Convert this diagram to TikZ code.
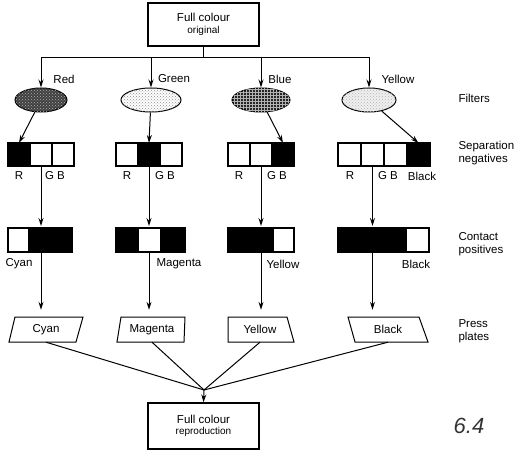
\documentclass[tikz,border=0pt]{standalone}
\usepackage{fontspec}
\setmainfont{Liberation Sans}
\usetikzlibrary{positioning,arrows.meta,patterns,shapes.geometric}

\begin{document}
\begin{tikzpicture}[x=1pt,y=-1pt,
    font=\fontsize{11.5}{13.5}\selectfont,
    >={Stealth[length=8pt,width=5pt]},
    box/.style={draw,line width=1.2pt,minimum width=111pt,align=center,inner sep=0pt},
    filter/.style={draw,ellipse,line width=1pt,minimum height=24pt,inner sep=0pt},
    cell/.style={draw,line width=1.2pt,minimum width=22pt,minimum height=23pt,inner sep=0pt,outer sep=0pt},
    poscell/.style={cell,minimum height=24pt},
    plate/.style={minimum height=25pt,inner sep=0pt},
    side/.style={anchor=west,align=left}]
  \useasboundingbox (0,0) rectangle (515,452);

  % original and reproduction
  \node[box,minimum height=43pt] (orig) at (203.5,24.5)
    {Full colour\\[-2pt]{\fontsize{10}{11}\selectfont original}};
  \node[box,minimum height=46pt] (rep) at (203.5,426)
    {Full colour\\[-2pt]{\fontsize{10}{11}\selectfont reproduction}};

  % filters
  \draw
    (64,79) node (lr){Red}
    (174,79) node (lg){Green}
    (280,79) node (lb){Blue}
    (398,79) node (ly){Yellow};
  \node[filter,minimum width=52pt,fill=black!75,postaction={pattern=crosshatch dots,pattern color=white!70!black}] (fr) at (41,100) {};
  \node[filter,minimum width=60pt,fill=white,postaction={pattern=crosshatch dots,pattern color=black!45}] (fg) at (151,100) {};
  \node[filter,minimum width=58pt,fill=black!85,postaction={pattern=grid,pattern color=white!70!black}] (fb) at (261,100) {};
  \node[filter,minimum width=54pt,fill=black!6,postaction={pattern=crosshatch dots,pattern color=black!30}] (fy) at (369,100) {};

  % separation negatives
  \node[cell,fill=black] (r1) at (19,154.5) {};
  \node[cell,right=0pt of r1] (r2) {};
  \node[cell,right=0pt of r2] (r3) {};
  \node[cell] (g1) at (127,154.5) {};
  \node[cell,fill=black,right=0pt of g1] (g2) {};
  \node[cell,right=0pt of g2] (g3) {};
  \node[cell] (b1) at (239,154.5) {};
  \node[cell,right=0pt of b1] (b2) {};
  \node[cell,fill=black,right=0pt of b2] (b3) {};
  \node[cell,minimum width=23pt] (y1) at (349.5,154.5) {};
  \node[cell,minimum width=23pt,right=0pt of y1] (y2) {};
  \node[cell,minimum width=23pt,right=0pt of y2] (y3) {};
  \node[cell,minimum width=23pt,fill=black,right=0pt of y3] (y4) {};
  \draw
    (19,176) node (rR){R}
    (55,176) node (rGB){G B}
    (127,176) node (gR){R}
    (165,176) node (gGB){G B}
    (239,176) node (bR){R}
    (277,176) node (bGB){G B}
    (350,176) node (yR){R}
    (388,176) node (yGB){G B}
    (422,176) node (yK){Black};

  % contact positives
  \node[poscell,minimum width=21pt] (c1) at (18.5,240) {};
  \node[poscell,minimum width=43pt,fill=black,right=0pt of c1] (c2) {};
  \node[poscell,fill=black] (m1) at (127,240) {};
  \node[poscell,minimum width=23pt,right=0pt of m1] (m2) {};
  \node[poscell,minimum width=24pt,fill=black,right=0pt of m2] (m3) {};
  \node[poscell,minimum width=45pt,fill=black] (p1) at (250.5,240) {};
  \node[poscell,minimum width=21pt,right=0pt of p1] (p2) {};
  \node[poscell,minimum width=68pt,fill=black] (k1) at (372,240) {};
  \node[poscell,minimum width=23pt,right=0pt of k1] (k2) {};
  \draw
    (19,264) node (lc){Cyan}
    (179,264) node (lm){Magenta}
    (283,264) node (lp){Yellow}
    (416,264) node (lk){Black};

  % press plates
  \draw[line width=1pt] (9,342) -- (15,317) -- (83,317) -- (76,342) -- cycle;
  \draw[line width=1pt] (117,342) -- (121,317) -- (185,317) -- (184,342) -- cycle;
  \draw[line width=1pt] (228,342) -- (228,317) -- (287,317) -- (294,342) -- cycle;
  \draw[line width=1pt] (355,342) -- (348,317) -- (419,317) -- (428,342) -- cycle;
  \node[plate] (pc) at (46,329.5) {Cyan};
  \node[plate] (pm) at (152,329.5) {Magenta};
  \node[plate] (py) at (260,329.5) {Yellow};
  \node[plate] (pk) at (388,329.5) {Black};
  \coordinate (mrg) at (204,390);

  % row labels
  \node[side] (tf) at (455,98) {Filters};
  \node[side] (ts) at (455,153) {Separation\\negatives};
  \node[side] (tc) at (455,244) {Contact\\positives};
  \node[side] (tp) at (455,331) {Press\\plates};
  \node[font=\fontsize{22}{22}\selectfont\itshape,text=black!80] (fig) at (469,426) {6.4};

  \begin{scope}[line width=1pt]
    \draw (orig.south) -- ++(0,11) coordinate (bus);
    \draw[->] (bus) -| (fr.north);
    \draw[->] (bus) -| (fg.north);
    \draw[->] (bus) -| (fb.north);
    \draw[->] (bus) -| (fy.north);
    \draw[->] (fr) -- (r1.north);
    \draw[->] (fg) -- (g2.north);
    \draw[->] (fb) -- (b3.north);
    \draw[->] (fy) -- (y4.north);
    \draw[->,shorten >=2pt] (r2.south) -- (r2.south |- c1.north);
    \draw[->,shorten >=2pt] (g2.south) -- (g2.south |- m1.north);
    \draw[->,shorten >=2pt] (b2.south) -- (b2.south |- p1.north);
    \draw[->,shorten >=2pt] (y2.south) -- (y2.south |- k1.north);
    \draw[->,shorten >=7pt] (r2.south |- c1.south) -- (r2.south |- pc.north);
    \draw[->,shorten >=7pt] (g2.south |- m1.south) -- (g2.south |- pm.north);
    \draw[->,shorten >=7pt] (b2.south |- p1.south) -- (b2.south |- py.north);
    \draw[->,shorten >=7pt] (y2.south |- k1.south) -- (y2.south |- pk.north);
    \draw (pc.south) -- (mrg);
    \draw (pm.south) -- (mrg);
    \draw (py.south) -- (mrg);
    \draw (pk.south) -- (mrg);
    \draw[->] (mrg) -- (rep.north);
  \end{scope}
\end{tikzpicture}
\end{document}
